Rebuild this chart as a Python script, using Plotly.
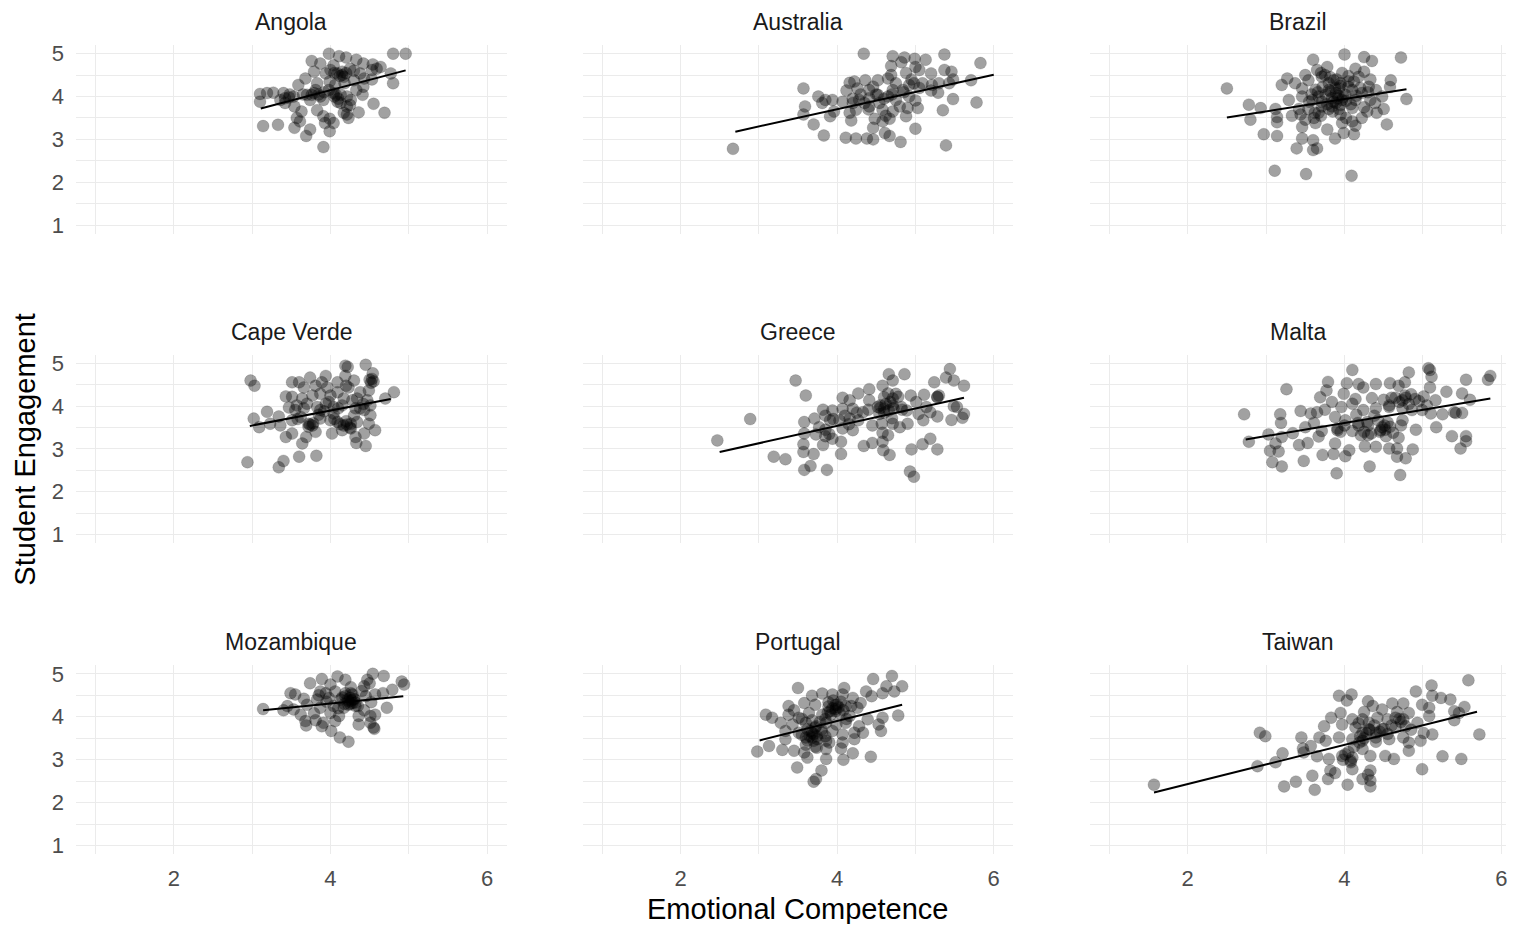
import plotly.graph_objects as go

# ---------------- data ----------------
countries = ["Angola", "Australia", "Brazil",
             "Cape Verde", "Greece", "Malta",
             "Mozambique", "Portugal", "Taiwan"]

angola_x = [4.80, 4.96, 3.98, 4.11, 4.20, 4.33, 3.76, 4.42, 4.54, 4.64, 3.87, 4.04, 4.25, 3.79, 3.94,
            4.09, 4.15, 4.38, 4.53, 4.59, 4.77, 4.80, 3.68, 3.59, 3.83, 3.99, 4.18, 4.30, 4.43, 4.53,
            4.42, 4.33, 3.10, 3.19, 3.27, 3.10, 3.40, 3.47, 3.36, 3.42, 3.53, 3.70, 3.79, 3.87, 3.74,
            3.91, 4.04, 4.13, 4.21, 4.26, 4.13, 4.21, 4.09, 4.41, 4.55, 4.69, 4.36, 4.21, 4.17, 4.23,
            3.54, 3.63, 3.57, 3.61, 3.83, 3.91, 3.99, 3.93, 4.04, 3.14, 3.33, 3.54, 3.74, 3.69, 3.99,
            3.91, 3.42, 3.81, 3.98, 4.06, 4.15, 4.17, 3.76, 4.07, 4.05, 4.12, 4.20, 4.00, 3.92, 3.85,
            4.05, 4.10, 3.65, 4.25, 3.48, 4.30]
angola_y = [5.00, 5.00, 5.00, 4.94, 4.91, 4.86, 4.83, 4.77, 4.75, 4.69, 4.77, 4.73, 4.65, 4.58, 4.54,
            4.54, 4.50, 4.54, 4.62, 4.65, 4.54, 4.31, 4.42, 4.27, 4.31, 4.35, 4.31, 4.38, 4.42, 4.40,
            4.23, 4.15, 4.06, 4.08, 4.09, 3.88, 4.08, 3.98, 3.92, 3.85, 4.00, 4.04, 4.08, 4.00, 3.92,
            3.92, 4.08, 4.04, 4.00, 3.92, 3.85, 3.77, 3.88, 4.04, 3.83, 3.62, 3.63, 3.58, 3.62, 3.50,
            3.77, 3.65, 3.50, 3.42, 3.68, 3.54, 3.48, 3.38, 3.38, 3.31, 3.34, 3.27, 3.23, 3.08, 3.19,
            2.82, 3.96, 4.15, 4.15, 4.27, 4.58, 4.46, 4.04, 4.04, 4.55, 4.48, 4.55, 4.62, 4.10, 4.05,
            4.00, 3.95, 4.05, 3.80, 4.05, 4.60]

australia_x = [4.34, 4.71, 4.86, 4.99, 5.13, 5.37, 5.83, 4.82, 4.69, 5.00, 5.37, 5.46, 5.05, 5.20, 4.88,
               4.69, 4.65, 5.48, 5.71, 4.36, 4.52, 4.16, 4.22, 4.75, 4.92, 4.98, 5.09, 5.21, 5.30, 5.43,
               3.57, 4.12, 4.26, 4.41, 4.46, 4.84, 5.20, 5.29, 3.76, 3.85, 3.94, 4.07, 4.20, 4.28, 4.41,
               4.54, 4.65, 4.75, 4.92, 5.00, 5.48, 5.78, 3.59, 3.81, 3.57, 3.70, 3.91, 3.96, 4.16, 4.24,
               4.41, 4.58, 4.71, 4.80, 4.90, 5.03, 4.88, 5.35, 4.18, 4.48, 4.58, 4.67, 4.46, 4.61, 4.67,
               5.00, 3.83, 4.11, 4.24, 4.38, 4.46, 4.81, 5.39, 2.67, 4.35, 4.71, 4.52, 4.50, 4.60, 4.70,
               4.85, 4.40, 4.62, 4.95, 4.30, 4.20, 5.05]
australia_y = [5.00, 4.94, 4.91, 4.88, 4.86, 4.98, 4.78, 4.80, 4.71, 4.69, 4.62, 4.58, 4.62, 4.54, 4.55,
               4.50, 4.42, 4.40, 4.38, 4.38, 4.38, 4.32, 4.35, 4.31, 4.27, 4.31, 4.31, 4.27, 4.31, 4.31,
               4.19, 4.14, 4.19, 4.15, 4.23, 4.15, 4.14, 4.09, 4.00, 3.92, 3.92, 3.88, 3.85, 3.92, 3.96,
               3.85, 4.00, 3.92, 4.00, 3.91, 3.94, 3.86, 3.77, 3.85, 3.58, 3.35, 3.54, 3.65, 3.62, 3.69,
               3.77, 3.69, 3.65, 3.77, 3.73, 3.73, 3.54, 3.68, 3.44, 3.48, 3.42, 3.48, 3.27, 3.15, 3.08,
               3.25, 3.09, 3.04, 3.02, 3.02, 3.00, 2.94, 2.86, 2.78, 3.85, 4.15, 4.04, 4.05, 3.95, 4.05,
               4.10, 3.70, 3.55, 4.40, 4.05, 3.95, 4.20]

brazil_x = [4.00, 3.60, 4.25, 4.35, 4.72, 3.65, 3.78, 3.97, 4.14, 4.25, 3.50, 3.27, 3.20, 3.37, 3.54,
            3.71, 3.86, 4.05, 4.18, 4.33, 4.59, 4.58, 4.31, 2.50, 3.46, 3.63, 3.80, 3.93, 4.10, 4.22,
            3.29, 3.46, 3.59, 3.71, 3.84, 3.89, 3.97, 4.14, 4.33, 4.48, 4.79, 2.78, 2.93, 2.80, 3.12,
            3.14, 3.14, 3.33, 3.42, 3.54, 3.67, 3.80, 3.93, 4.10, 4.29, 4.39, 4.50, 3.50, 3.63, 3.46,
            3.78, 3.97, 4.10, 4.14, 4.54, 2.97, 3.14, 3.46, 3.60, 3.88, 3.99, 4.12, 3.39, 3.60, 3.65,
            3.11, 3.51, 4.09, 3.80, 3.89, 3.76, 4.01, 3.84, 3.71, 4.05, 3.67, 3.95, 3.91, 3.44, 3.61,
            4.22, 4.41, 3.70, 3.75, 3.82, 3.90, 3.95, 3.88, 3.82, 3.92, 3.98, 4.02, 3.86, 3.78, 3.95,
            4.08, 4.15, 4.20, 3.72, 3.66, 3.58, 3.55, 4.05, 4.12, 3.85, 3.95, 4.02, 3.70, 3.62, 4.25,
            4.30, 4.40]
brazil_y = [4.98, 4.86, 4.92, 4.83, 4.91, 4.62, 4.69, 4.55, 4.65, 4.58, 4.50, 4.42, 4.27, 4.31, 4.38,
            4.46, 4.38, 4.35, 4.46, 4.40, 4.38, 4.22, 4.23, 4.19, 4.19, 4.16, 4.15, 4.19, 4.15, 4.08,
            3.92, 4.00, 3.92, 3.88, 3.96, 3.85, 3.92, 3.92, 3.92, 4.00, 3.94, 3.81, 3.73, 3.46, 3.71,
            3.52, 3.40, 3.55, 3.71, 3.71, 3.62, 3.71, 3.71, 3.73, 3.65, 3.85, 3.71, 3.46, 3.38, 3.29,
            3.23, 3.38, 3.42, 3.32, 3.35, 3.12, 3.08, 3.02, 2.98, 3.02, 3.15, 3.12, 2.79, 2.75, 2.79,
            2.27, 2.19, 2.15, 4.31, 4.08, 4.04, 4.04, 3.77, 3.77, 4.23, 4.00, 4.31, 3.96, 3.58, 3.50,
            3.50, 3.62, 4.55, 4.50, 4.45, 4.40, 4.25, 4.20, 4.12, 4.02, 3.98, 3.90, 3.88, 3.82, 3.80,
            3.82, 4.02, 4.20, 4.22, 4.10, 4.05, 3.88, 4.48, 4.35, 3.65, 3.58, 3.50, 3.55, 3.62, 3.75,
            4.10, 4.15]

capeverde_x = [4.45, 4.19, 4.22, 3.74, 3.94, 4.09, 4.19, 4.54, 4.53, 4.55, 2.98, 3.03, 3.51, 3.60, 3.66,
               3.81, 3.89, 3.96, 4.23, 4.30, 4.38, 4.49, 4.81, 4.70, 3.43, 3.51, 3.64, 3.77, 3.87, 4.00,
               4.09, 4.17, 4.34, 4.47, 3.47, 3.57, 3.70, 3.83, 3.94, 4.04, 4.15, 4.32, 4.43, 4.51, 3.19,
               3.02, 3.09, 3.23, 3.34, 3.36, 3.51, 3.62, 3.72, 3.77, 3.87, 4.00, 4.09, 4.17, 4.26, 4.34,
               4.51, 4.49, 4.57, 3.43, 3.51, 3.69, 3.81, 4.02, 4.15, 4.26, 4.43, 4.32, 3.64, 4.33, 4.45,
               2.94, 3.40, 3.60, 3.82, 3.34, 3.74, 4.21, 4.04, 3.87, 3.55, 4.28, 3.72, 3.78, 3.85, 3.92,
               4.05, 4.12, 4.20, 4.25, 4.38, 4.42, 4.50, 4.52, 4.20, 3.98, 3.66, 3.58, 4.30, 4.10]
capeverde_y = [4.97, 4.95, 4.92, 4.67, 4.71, 4.56, 4.71, 4.77, 4.64, 4.58, 4.60, 4.48, 4.56, 4.56, 4.44,
               4.48, 4.56, 4.44, 4.44, 4.60, 4.33, 4.37, 4.33, 4.18, 4.23, 4.22, 4.18, 4.25, 4.29, 4.25,
               4.33, 4.18, 4.18, 4.14, 3.97, 4.02, 4.06, 3.98, 4.06, 3.98, 4.02, 3.95, 3.91, 4.02, 3.87,
               3.71, 3.51, 3.59, 3.76, 3.55, 3.67, 3.75, 3.59, 3.55, 3.71, 3.67, 3.63, 3.55, 3.59, 3.63,
               3.79, 3.59, 3.44, 3.28, 3.36, 3.28, 3.40, 3.36, 3.44, 3.48, 3.36, 3.28, 3.13, 3.14, 3.07,
               2.69, 2.72, 2.82, 2.84, 2.57, 3.57, 3.57, 3.83, 3.91, 3.91, 4.14, 3.52, 3.60, 3.80, 3.88,
               3.70, 3.58, 3.65, 3.50, 3.95, 4.05, 4.62, 4.55, 4.48, 4.10, 3.95, 3.70, 3.78, 3.95]

greece_x = [5.44, 4.66, 4.86, 5.39, 3.47, 4.58, 4.71, 5.24, 5.49, 5.62, 4.41, 4.27, 3.60, 4.07, 4.16,
            4.75, 4.94, 5.11, 5.28, 5.49, 5.53, 4.60, 4.41, 4.52, 4.60, 4.71, 4.82, 5.01, 5.14, 3.82,
            3.94, 4.07, 4.20, 4.33, 4.54, 4.89, 5.04, 5.19, 5.28, 5.62, 5.60, 5.46, 2.89, 3.58, 3.71,
            3.91, 4.03, 4.16, 4.27, 4.45, 4.57, 4.71, 4.80, 4.90, 5.10, 3.77, 4.07, 4.20, 3.58, 3.73,
            3.85, 3.94, 4.65, 5.19, 2.47, 3.57, 3.82, 4.05, 4.34, 4.45, 4.58, 5.09, 5.28, 3.57, 3.70,
            4.05, 4.59, 4.67, 4.95, 3.19, 3.34, 3.66, 3.58, 3.87, 4.93, 4.98, 4.55, 4.66, 4.71, 5.28,
            3.85, 4.62, 4.68, 4.72, 4.55, 4.78, 4.65, 4.60, 4.83, 4.40, 4.25, 4.10, 3.95, 3.85, 3.90,
            5.30, 4.70, 4.58, 4.15]
greece_y = [4.87, 4.75, 4.75, 4.67, 4.60, 4.48, 4.60, 4.56, 4.60, 4.48, 4.40, 4.30, 4.25, 4.20, 4.14,
            4.29, 4.25, 4.27, 4.21, 4.00, 3.98, 4.21, 4.14, 3.98, 3.94, 4.02, 3.98, 4.10, 3.98, 3.92,
            3.90, 3.94, 3.94, 3.86, 3.82, 3.90, 3.82, 3.86, 3.76, 3.82, 3.73, 3.68, 3.70, 3.63, 3.71,
            3.67, 3.67, 3.71, 3.67, 3.55, 3.59, 3.59, 3.51, 3.59, 3.67, 3.51, 3.48, 3.44, 3.36, 3.34,
            3.30, 3.24, 3.32, 3.24, 3.20, 3.11, 3.09, 3.17, 3.07, 3.14, 3.17, 3.11, 2.99, 2.93, 2.88,
            2.88, 2.97, 2.86, 2.99, 2.82, 2.76, 2.60, 2.51, 2.51, 2.47, 2.35, 3.96, 3.90, 4.18, 4.22,
            3.78, 4.05, 4.10, 3.95, 4.02, 4.22, 4.30, 3.85, 3.92, 3.92, 3.85, 3.78, 3.70, 3.45, 3.35,
            4.25, 3.72, 3.38, 3.58]

malta_x = [4.10, 5.07, 5.09, 4.82, 5.11, 5.86, 5.83, 5.55, 3.26, 3.79, 3.77, 3.69, 4.03, 4.18, 4.24,
           4.40, 4.58, 4.69, 4.77, 5.09, 5.30, 5.50, 5.60, 3.99, 4.14, 4.35, 4.50, 4.65, 4.77, 4.90,
           5.01, 5.16, 3.84, 3.75, 3.96, 4.10, 4.24, 4.40, 4.57, 4.74, 4.86, 4.99, 5.10, 5.25, 5.40,
           5.50, 2.72, 3.18, 3.19, 3.44, 3.57, 3.65, 3.61, 3.88, 4.01, 4.17, 4.29, 4.43, 4.51, 4.74,
           4.72, 3.50, 3.34, 3.03, 3.20, 3.71, 3.91, 4.10, 4.21, 4.34, 4.46, 4.53, 4.91, 5.17, 5.37,
           5.55, 5.55, 5.48, 2.78, 3.12, 3.42, 3.53, 3.67, 3.88, 4.06, 4.26, 4.40, 4.57, 4.69, 4.67,
           4.87, 3.05, 3.16, 3.86, 4.01, 3.72, 4.67, 4.78, 3.48, 3.08, 3.20, 4.32, 3.90, 4.71, 4.48,
           4.30, 4.57, 4.74, 4.18, 3.91, 5.42, 4.45, 4.52, 4.58, 4.62, 4.55, 4.70, 4.78, 4.82, 4.85,
           4.95, 4.60, 4.25, 4.30, 4.00, 3.95, 4.38, 5.05, 4.15]
malta_y = [4.85, 4.89, 4.85, 4.79, 4.69, 4.71, 4.62, 4.62, 4.40, 4.57, 4.37, 4.21, 4.54, 4.52, 4.44,
           4.52, 4.54, 4.48, 4.56, 4.44, 4.34, 4.30, 4.15, 4.29, 4.17, 4.19, 4.15, 4.20, 4.25, 4.17,
           4.23, 4.14, 4.10, 3.92, 3.98, 4.06, 3.91, 3.95, 3.98, 3.95, 3.91, 3.91, 3.83, 3.81, 3.86,
           3.84, 3.81, 3.81, 3.61, 3.89, 3.83, 3.86, 3.61, 3.75, 3.67, 3.61, 3.63, 3.67, 3.55, 3.67,
           3.55, 3.51, 3.37, 3.34, 3.28, 3.42, 3.48, 3.42, 3.32, 3.36, 3.44, 3.30, 3.45, 3.51, 3.30,
           3.30, 3.18, 3.01, 3.17, 3.13, 3.09, 3.14, 3.29, 3.13, 2.97, 3.06, 3.05, 3.01, 3.26, 3.01,
           2.99, 2.96, 2.94, 2.88, 2.83, 2.86, 2.82, 2.78, 2.72, 2.69, 2.59, 2.59, 2.43, 2.39, 3.51,
           3.32, 4.02, 4.14, 3.55, 3.44, 3.84, 3.40, 3.45, 3.52, 3.38, 3.62, 4.10, 4.20, 4.05, 4.28,
           4.12, 4.20, 3.40, 3.55, 3.55, 3.40, 3.78, 4.02, 3.80]

mozambique_x = [4.54, 4.68, 4.09, 3.89, 4.19, 4.47, 4.50, 4.43, 4.91, 4.94, 3.74, 4.00, 4.26, 4.79, 4.67,
                3.49, 3.87, 3.94, 4.06, 4.19, 4.28, 4.45, 4.57, 3.55, 3.66, 3.83, 3.98, 4.13, 4.23, 4.28,
                4.52, 4.72, 3.45, 3.53, 3.70, 3.87, 4.04, 4.17, 4.32, 4.43, 3.14, 3.40, 3.62, 3.79, 4.00,
                4.11, 4.36, 4.51, 4.57, 3.68, 3.81, 3.91, 4.06, 4.36, 4.51, 3.69, 3.89, 4.55, 4.56, 4.01,
                4.12, 4.23, 4.25, 4.23, 4.30, 4.19, 4.26, 4.27, 4.30, 4.25, 4.32, 4.22, 4.35, 4.18, 4.10,
                4.15, 4.40, 3.95, 3.85]
mozambique_y = [5.00, 4.95, 4.94, 4.88, 4.86, 4.86, 4.78, 4.71, 4.82, 4.75, 4.78, 4.75, 4.69, 4.63, 4.55,
                4.55, 4.59, 4.55, 4.59, 4.55, 4.52, 4.48, 4.52, 4.52, 4.42, 4.40, 4.44, 4.40, 4.36, 4.32,
                4.34, 4.21, 4.25, 4.17, 4.28, 4.21, 4.25, 4.21, 4.25, 4.15, 4.18, 4.15, 4.05, 4.08, 4.09,
                4.02, 4.02, 4.02, 4.05, 3.90, 3.92, 3.86, 3.90, 3.82, 3.86, 3.80, 3.78, 3.75, 3.72, 3.67,
                3.52, 3.42, 4.44, 4.28, 4.40, 4.48, 4.55, 4.38, 4.42, 4.30, 4.33, 4.40, 4.25, 4.30, 4.20,
                4.45, 4.60, 4.35, 4.50]

portugal_x = [4.70, 4.46, 4.63, 4.83, 4.73, 4.58, 3.50, 4.09, 4.37, 4.44, 3.68, 3.81, 3.94, 4.07, 4.20,
              4.30, 3.38, 3.58, 3.72, 3.89, 3.98, 4.11, 4.26, 3.09, 3.17, 3.38, 3.51, 3.64, 3.81, 3.91,
              4.03, 4.16, 4.39, 4.58, 4.78, 3.28, 3.43, 3.60, 3.73, 3.86, 3.99, 4.11, 4.28, 4.53, 4.56,
              3.34, 3.51, 3.66, 3.81, 3.94, 4.07, 4.22, 4.33, 3.34, 3.60, 3.70, 3.86, 4.07, 4.22, 2.98,
              3.13, 3.30, 3.45, 3.58, 3.74, 3.86, 4.05, 4.20, 3.62, 3.86, 4.08, 4.43, 3.49, 3.80, 3.73,
              3.70, 3.68, 3.68, 3.94, 3.98, 3.62, 3.89, 3.74, 4.00, 3.65, 3.70, 3.75, 3.62, 3.55, 3.80,
              3.72, 3.85, 3.92, 3.98, 4.02, 4.05, 3.95, 4.08, 3.88, 3.78, 3.68, 3.55, 3.45, 4.12, 4.18,
              3.60, 3.72, 3.85, 3.90]
portugal_y = [4.95, 4.88, 4.71, 4.71, 4.59, 4.55, 4.67, 4.67, 4.59, 4.48, 4.49, 4.54, 4.52, 4.52, 4.44,
              4.32, 4.25, 4.32, 4.28, 4.34, 4.28, 4.25, 4.21, 4.05, 3.98, 4.05, 3.98, 4.09, 4.05, 4.13,
              4.09, 4.02, 3.94, 3.98, 4.03, 3.86, 3.82, 3.86, 3.78, 3.86, 3.82, 3.86, 3.78, 3.82, 3.67,
              3.67, 3.63, 3.67, 3.63, 3.67, 3.59, 3.63, 3.63, 3.48, 3.52, 3.44, 3.44, 3.40, 3.48, 3.19,
              3.32, 3.23, 3.21, 3.17, 3.28, 3.25, 3.26, 3.15, 3.05, 3.02, 3.00, 3.07, 2.82, 2.75, 2.55,
              2.49, 3.63, 3.52, 4.20, 4.13, 3.71, 4.24, 3.55, 4.28, 3.55, 3.60, 3.48, 3.45, 3.58, 3.70,
              3.75, 3.95, 4.05, 4.18, 4.22, 4.35, 4.38, 4.15, 4.10, 3.88, 3.92, 3.95, 4.15, 3.95, 4.25,
              3.35, 3.30, 3.55, 3.40]

taiwan_x = [5.58, 5.11, 4.91, 5.12, 5.23, 5.35, 3.93, 4.09, 4.03, 4.30, 4.36, 4.61, 4.75, 4.99, 5.08,
            5.53, 5.40, 5.46, 5.40, 5.72, 3.95, 4.25, 4.48, 4.67, 4.82, 3.83, 4.10, 4.23, 4.42, 4.55,
            4.75, 4.93, 5.08, 3.74, 3.97, 4.14, 4.31, 4.48, 4.65, 4.78, 5.01, 5.12, 2.92, 2.99, 3.45,
            3.68, 3.76, 3.93, 4.10, 4.23, 4.40, 4.57, 4.75, 4.82, 4.97, 3.47, 3.57, 3.48, 3.65, 3.80,
            3.97, 4.10, 4.23, 4.33, 4.52, 4.63, 4.82, 5.25, 5.49, 3.21, 3.12, 2.89, 3.82, 3.88, 4.10,
            4.33, 4.99, 3.59, 3.79, 4.23, 4.33, 3.38, 3.23, 4.04, 4.33, 3.62, 1.57, 4.23, 4.31, 4.40,
            4.01, 4.08, 4.19, 4.20, 4.25, 4.28, 4.32, 4.38, 4.45, 4.50, 4.60, 4.70, 4.72, 4.65, 4.12,
            4.05, 3.98, 4.08, 4.30, 4.18, 4.40, 4.55, 4.85]
taiwan_y = [4.85, 4.73, 4.59, 4.49, 4.44, 4.40, 4.49, 4.52, 4.38, 4.36, 4.25, 4.31, 4.31, 4.28, 4.21,
            4.23, 4.13, 4.09, 3.92, 3.59, 4.09, 4.11, 4.17, 4.11, 4.09, 3.98, 3.94, 3.94, 3.98, 3.94,
            3.94, 3.86, 4.02, 3.78, 3.82, 3.75, 3.71, 3.71, 3.75, 3.78, 3.62, 3.59, 3.63, 3.55, 3.52,
            3.52, 3.44, 3.52, 3.48, 3.44, 3.52, 3.48, 3.52, 3.40, 3.44, 3.26, 3.32, 3.17, 3.08, 3.02,
            3.09, 3.05, 3.25, 3.09, 3.09, 3.02, 3.21, 3.08, 3.02, 3.15, 2.94, 2.85, 2.75, 2.69, 2.78,
            2.75, 2.78, 2.63, 2.55, 2.55, 2.52, 2.49, 2.38, 2.42, 2.38, 2.30, 2.42, 3.63, 3.86, 3.63,
            3.13, 2.94, 3.40, 3.55, 3.50, 3.62, 3.70, 3.80, 3.65, 3.72, 3.80, 3.95, 3.88, 3.98, 3.30,
            3.18, 3.00, 2.98, 2.65, 3.85, 3.42, 3.60, 3.70]

points_x = [angola_x, australia_x, brazil_x, capeverde_x, greece_x, malta_x,
            mozambique_x, portugal_x, taiwan_x]
points_y = [angola_y, australia_y, brazil_y, capeverde_y, greece_y, malta_y,
            mozambique_y, portugal_y, taiwan_y]

# fitted regression lines (intercept, slope, x extent)
fit_intercept = [2.224, 2.092, 2.790, 2.500, 1.912, 2.377, 3.572, 2.077, 1.524]
fit_slope = [0.481, 0.403, 0.288, 0.350, 0.407, 0.308, 0.184, 0.456, 0.456]
fit_x_from = [3.11, 2.70, 2.50, 2.97, 2.50, 2.74, 3.14, 3.01, 1.57]
fit_x_to = [4.96, 6.00, 4.79, 4.77, 5.62, 5.86, 4.93, 4.83, 5.69]

x_ticks = [2, 4, 6]
x_minor = [1, 3, 5]
y_ticks = [1, 2, 3, 4, 5]
y_minor = [1.5, 2.5, 3.5, 4.5]

x_title = "Emotional Competence"
y_title = "Student Engagement"

# ---------------- layout geometry ----------------
# the page body has an 8px margin, so the figure is placed 8px in from the window corner
OFF = 8
W, H = 1515 - 2 * OFF, 932 - 2 * OFF


def fx(p):
    return (p - OFF) / W


def fy(p):
    return 1 - (p - OFF) / H


col_px = [(76, 507), (583, 1014), (1090.4, 1515 - OFF)]
col_range = [[0.75, 6.25], [0.75, 6.25], [0.75, 0.75 + (1515 - OFF - 1090.4) / 78.46]]
row_px = [(41.4, 231.6), (354, 543.6), (667, 857.7)]
y_range = [0.8, 5.2]

FONT = "Liberation Sans, Arial, Helvetica, sans-serif"
GRID = "#ebebeb"

fig = go.Figure()
annotations = []
layout = {}

for i, name in enumerate(countries):
    r, c = divmod(i, 3)
    idx = "" if i == 0 else str(i + 1)
    xa, ya = "x" + idx, "y" + idx

    fig.add_trace(go.Scatter(
        x=points_x[i], y=points_y[i], mode="markers",
        marker=dict(size=12, color="rgba(0,0,0,0.37)",
                    line=dict(width=0.6, color="rgba(0,0,0,0.22)")),
        xaxis=xa, yaxis=ya, showlegend=False, hoverinfo="x+y"))

    lx = [fit_x_from[i], fit_x_to[i]]
    ly = [fit_intercept[i] + fit_slope[i] * v for v in lx]
    fig.add_trace(go.Scatter(
        x=lx, y=ly, mode="lines", line=dict(color="black", width=2),
        xaxis=xa, yaxis=ya, showlegend=False, hoverinfo="skip"))

    x0, x1 = col_px[c]
    y0, y1 = row_px[r]
    layout["xaxis" + idx] = dict(
        domain=[fx(x0), fx(x1)], range=col_range[c], anchor=ya,
        tickmode="array", tickvals=x_ticks, ticktext=[str(t) for t in x_ticks],
        showticklabels=(r == 2), ticks="", showline=False, zeroline=False,
        showgrid=True, gridcolor=GRID, gridwidth=1.4,
        minor=dict(tickmode="array", tickvals=x_minor, showgrid=True,
                   gridcolor=GRID, gridwidth=0.8, ticks=""),
        tickfont=dict(family=FONT, size=22, color="#4d4d4d"),
        ticklabelstandoff=9, ticklabeloverflow="allow",
        fixedrange=True)
    layout["yaxis" + idx] = dict(
        domain=[fy(y1), fy(y0)], range=y_range, anchor=xa,
        tickmode="array", tickvals=y_ticks, ticktext=[str(t) for t in y_ticks],
        showticklabels=(c == 0), ticks="", showline=False, zeroline=False,
        showgrid=True, gridcolor=GRID, gridwidth=1.4,
        minor=dict(tickmode="array", tickvals=y_minor, showgrid=True,
                   gridcolor=GRID, gridwidth=0.8, ticks=""),
        tickfont=dict(family=FONT, size=22, color="#4d4d4d"),
        ticklabelstandoff=11,
        fixedrange=True)

    annotations.append(dict(
        text=name, xref="paper", yref="paper",
        x=fx((x0 + x1) / 2), y=fy(y0 - 23),
        xanchor="center", yanchor="middle", showarrow=False,
        font=dict(family=FONT, size=23, color="#1a1a1a")))

annotations.append(dict(
    text=x_title, xref="paper", yref="paper", x=fx(798), y=fy(913),
    xanchor="center", yanchor="middle", showarrow=False,
    font=dict(family=FONT, size=29, color="black")))
annotations.append(dict(
    text=y_title, xref="paper", yref="paper", x=fx(25), y=fy(449.5),
    xanchor="center", yanchor="middle", showarrow=False, textangle=-90,
    font=dict(family=FONT, size=29, color="black")))

fig.update_layout(
    width=W, height=H, autosize=False,
    margin=dict(l=0, r=0, t=0, b=0),
    paper_bgcolor="white", plot_bgcolor="white",
    annotations=annotations, **layout)

fig.write_html("out.html")
